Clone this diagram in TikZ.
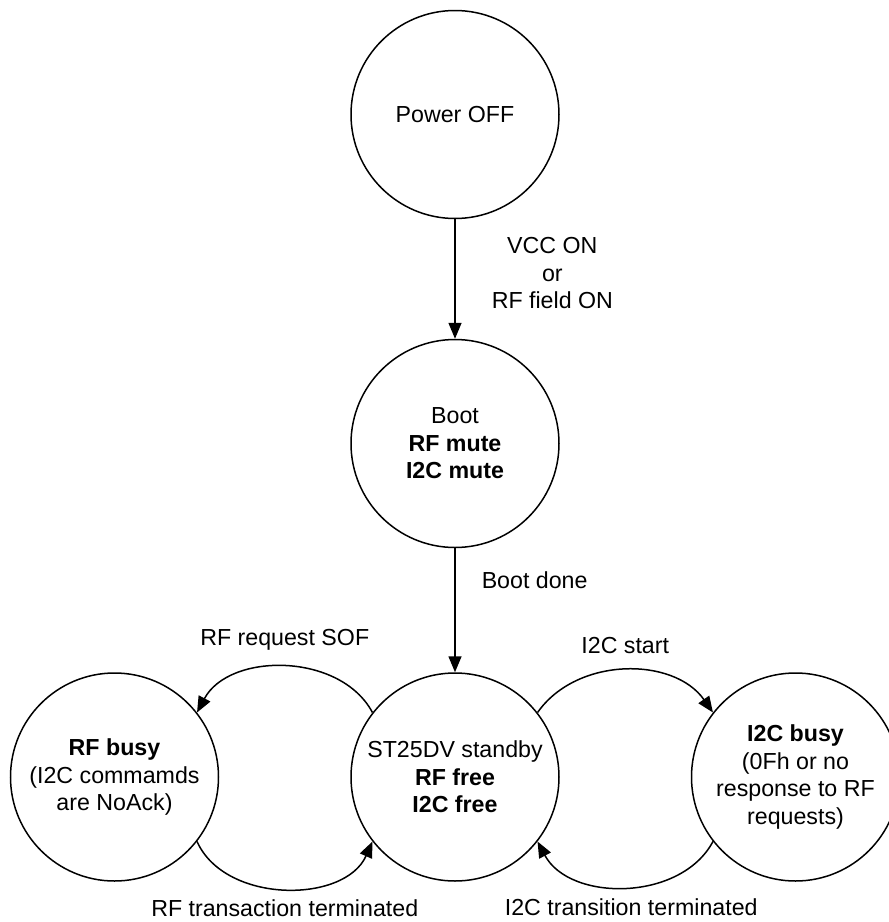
\documentclass[tikz,border=0pt]{standalone}
\usepackage{fontspec}
\setmainfont{Liberation Sans}
\usetikzlibrary{arrows.meta}

\begin{document}
\begin{tikzpicture}[x=0.5pt, y=0.5pt, >={Triangle[length=8pt, width=6.5pt]}, line width=0.75pt,
        font=\fontsize{11.6}{13.8}\selectfont,
        st/.style={circle, draw=black, minimum size=104pt, inner sep=0pt, align=center},
        lbl/.style={inner sep=0pt, align=center}]
        
        \path[use as bounding box, clip] (0,0) rectangle (889,-922);
        
        \node[st] (off) at (455,-114.5) {Power OFF};
        \node[st] (boot) at (455,-443.5) {Boot\\\textbf{RF mute}\\\textbf{I2C mute}};
        \node[st] (sb) at (455,-777) {ST25DV standby\\\textbf{RF free}\\\textbf{I2C free}};
        \node[st] (rfb) at (114.5,-777) {\textbf{RF busy}\\(I2C commamds\\are NoAck)};
        \node[st] (i2cb) at (795.5,-777) {\textbf{I2C busy}\\(0Fh or no\\response to RF\\requests)};
        
        \draw[->] (off) -- node[lbl, pos=0.45, right=18pt] {VCC ON\\or\\RF field ON} (boot);
        \draw[->] (boot) -- node[lbl, pos=0.26, right=13pt] {Boot done} (sb);
        
        % RF side
        \draw[->] (sb.142) to[bend right=62] node[lbl, above=8pt] {RF request SOF} (rfb.38);
        \draw[->] (rfb.-38) to[bend right=66] node[lbl, below=5.5pt] {RF transaction terminated} (sb.218);
        
        % I2C side
        \draw[->] (sb.38) to[bend left=55] node[lbl, above=8pt] {I2C start} (i2cb.142);
        \draw[->] (i2cb.218) to[bend left=62] node[lbl, below=5.5pt, xshift=3pt] {I2C transition terminated} (sb.-38);
        
    \end{tikzpicture}
\end{document}
